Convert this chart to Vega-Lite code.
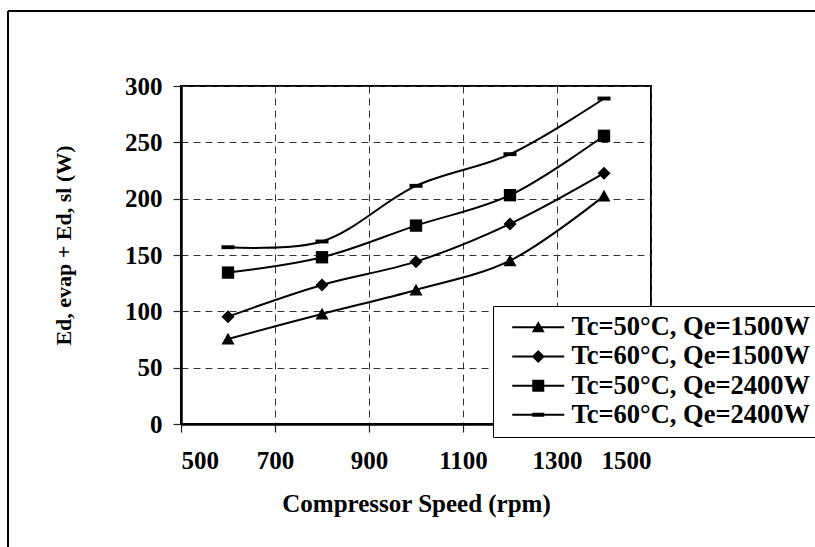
{
  "$schema": "https://vega.github.io/schema/vega-lite/v6.json",
  "width": 470,
  "height": 338,
  "autosize": "none",
  "padding": {"left": 181, "top": 86, "right": 164, "bottom": 123},
  "background": "white",
  "config": {
    "font": "Liberation Serif",
    "view": {"stroke": "black", "strokeWidth": 2},
    "axis": {
      "labelFont": "Liberation Serif",
      "labelFontWeight": "bold",
      "labelFontSize": 25,
      "labelColor": "black",
      "titleFont": "Liberation Serif",
      "titleFontWeight": "bold",
      "titleColor": "black",
      "domainColor": "black",
      "domainWidth": 2.5,
      "tickColor": "#222",
      "tickWidth": 1.2,
      "tickSize": 8,
      "gridColor": "#333",
      "gridDash": [7, 5],
      "gridWidth": 1,
      "gridOpacity": 1
    }
  },
  "datasets": {
    "curves": [
      {"series": "Tc=50°C, Qe=1500W", "rpm": 600, "value": 75.5},
      {"series": "Tc=50°C, Qe=1500W", "rpm": 800, "value": 97.7},
      {"series": "Tc=50°C, Qe=1500W", "rpm": 1000, "value": 119},
      {"series": "Tc=50°C, Qe=1500W", "rpm": 1200, "value": 145},
      {"series": "Tc=50°C, Qe=1500W", "rpm": 1400, "value": 202.5},
      {"series": "Tc=60°C, Qe=1500W", "rpm": 600, "value": 95.3},
      {"series": "Tc=60°C, Qe=1500W", "rpm": 800, "value": 123.4},
      {"series": "Tc=60°C, Qe=1500W", "rpm": 1000, "value": 144.1},
      {"series": "Tc=60°C, Qe=1500W", "rpm": 1200, "value": 177.6},
      {"series": "Tc=60°C, Qe=1500W", "rpm": 1400, "value": 222.6},
      {"series": "Tc=50°C, Qe=2400W", "rpm": 600, "value": 134.4},
      {"series": "Tc=50°C, Qe=2400W", "rpm": 800, "value": 148},
      {"series": "Tc=50°C, Qe=2400W", "rpm": 1000, "value": 176.1},
      {"series": "Tc=50°C, Qe=2400W", "rpm": 1200, "value": 203.1},
      {"series": "Tc=50°C, Qe=2400W", "rpm": 1400, "value": 255.8},
      {"series": "Tc=60°C, Qe=2400W", "rpm": 600, "value": 156.9},
      {"series": "Tc=60°C, Qe=2400W", "rpm": 800, "value": 162},
      {"series": "Tc=60°C, Qe=2400W", "rpm": 1000, "value": 211.4},
      {"series": "Tc=60°C, Qe=2400W", "rpm": 1200, "value": 239.5},
      {"series": "Tc=60°C, Qe=2400W", "rpm": 1400, "value": 288.9}
    ],
    "frame": [
      {"fx": 131.9, "fx2": 131.9, "fy": -300, "fy2": 366.6},
      {"fx": 131.9, "fx2": 4000, "fy": 366.6, "fy2": 366.6}
    ]
  },
  "layer": [
    {
      "data": {"name": "curves"},
      "mark": {"type": "line", "interpolate": "catmull-rom", "color": "black", "strokeWidth": 2},
      "encoding": {
        "x": {
          "field": "rpm", "type": "quantitative",
          "scale": {"domain": [500, 1500], "nice": false, "zero": false},
          "axis": {
            "title": "Compressor Speed (rpm)",
            "titleFontSize": 25,
            "values": [500, 700, 900, 1100, 1300, 1500],
            "format": "d",
            "labelPadding": 16,
            "titlePadding": 18,
            "grid": true
          }
        },
        "y": {
          "field": "value", "type": "quantitative",
          "scale": {"domain": [0, 300], "nice": false},
          "axis": {
            "title": "Ed, evap + Ed, sl (W)",
            "titleFontSize": 22,
            "values": [0, 50, 100, 150, 200, 250, 300],
            "format": "d",
            "labelPadding": 11,
            "titlePadding": 49,
            "titleY": 159,
            "grid": true
          }
        },
        "detail": {"field": "series"}
      }
    },
    {
      "data": {"name": "curves"},
      "mark": {"type": "point", "filled": true, "color": "black", "opacity": 1, "size": 169, "strokeWidth": 0.5},
      "encoding": {
        "x": {"field": "rpm", "type": "quantitative", "title": "Compressor Speed (rpm)"},
        "y": {"field": "value", "type": "quantitative", "title": "Ed, evap + Ed, sl (W)"},
        "shape": {
          "field": "series", "type": "nominal", "sort": null,
          "scale": {
            "domain": ["Tc=50°C, Qe=1500W", "Tc=60°C, Qe=1500W", "Tc=50°C, Qe=2400W", "Tc=60°C, Qe=2400W"],
            "range": ["M0,-0.95L1,0.85L-1,0.85Z", "M0,-1L1,0L0,1L-1,0Z", "M-0.95,-0.95H0.95V0.95H-0.95Z", "M-1,-0.3H1V0.3H-1Z"]
          },
          "legend": null
        }
      }
    },
    {
      "data": {"name": "curves"},
      "transform": [{"filter": "false"}],
      "mark": {"type": "point", "filled": true, "fill": "black", "opacity": 1},
      "encoding": {
        "x": {"field": "rpm", "type": "quantitative", "title": "Compressor Speed (rpm)"},
        "y": {"field": "value", "type": "quantitative", "title": "Ed, evap + Ed, sl (W)"},
        "shape": {
          "field": "series", "type": "nominal", "sort": null,
          "scale": {
            "domain": ["Tc=50°C, Qe=1500W", "Tc=60°C, Qe=1500W", "Tc=50°C, Qe=2400W", "Tc=60°C, Qe=2400W"],
            "range": [
              "M-2.6,-0.1H2.6V0.1H-2.6ZM0,-0.6L0.65,0.5L-0.65,0.5Z",
              "M-2.6,-0.1H2.6V0.1H-2.6ZM0,-0.65L0.65,0L0,0.65L-0.65,0Z",
              "M-2.6,-0.1H2.6V0.1H-2.6ZM-0.6,-0.6H0.6V0.6H-0.6Z",
              "M-2.6,-0.1H2.6V0.1H-2.6ZM-0.6,-0.2H0.6V0.2H-0.6Z"
            ]
          },
          "legend": {
            "orient": "none",
            "legendX": 312,
            "legendY": 220,
            "title": null,
            "direction": "vertical",
            "padding": 8,
            "strokeColor": "black",
            "fillColor": "white",
            "symbolSize": 400,
            "symbolStrokeWidth": 0,
            "symbolFillColor": "black",
            "symbolOpacity": 1,
            "symbolOffset": 24,
            "labelOffset": 20,
            "labelFont": "Liberation Serif",
            "labelFontWeight": "bold",
            "labelFontSize": 26.5,
            "labelColor": "black",
            "labelLimit": 500,
            "rowPadding": 2.2,
            "encode": {
              "symbols": {
                "update": {
                  "fill": {"value": "black"},
                  "opacity": {"value": 1}
                }
              }
            }
          }
        }
      }
    },
    {
      "data": {"name": "frame"},
      "mark": {"type": "rule", "color": "black", "strokeWidth": 2},
      "encoding": {
        "x": {"field": "fx", "type": "quantitative", "title": "Compressor Speed (rpm)"},
        "x2": {"field": "fx2"},
        "y": {"field": "fy", "type": "quantitative", "title": "Ed, evap + Ed, sl (W)"},
        "y2": {"field": "fy2"}
      }
    }
  ],
  "resolve": {"scale": {"shape": "independent"}, "legend": {"shape": "independent"}}
}
